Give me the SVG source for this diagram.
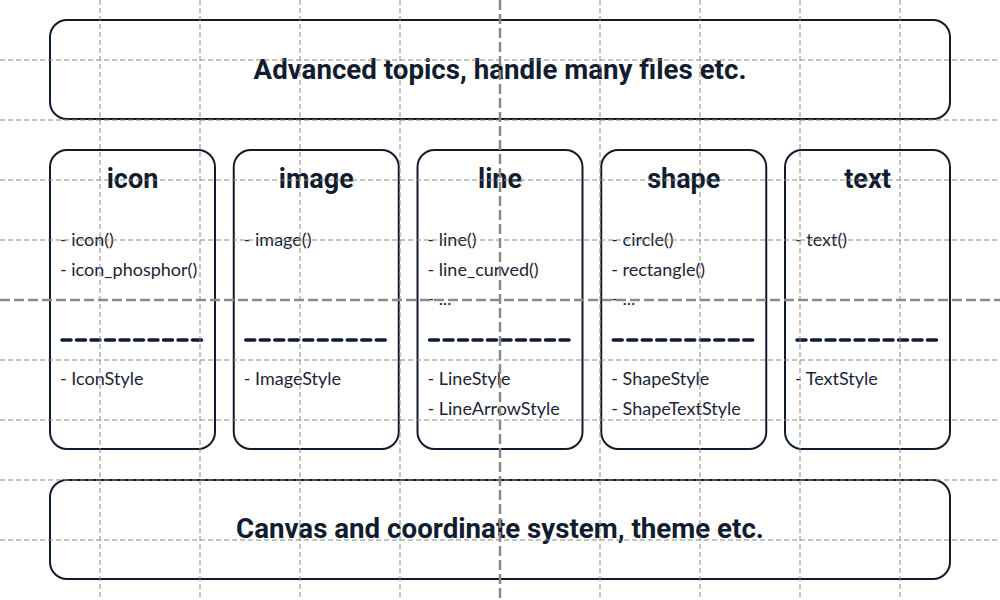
<svg xmlns="http://www.w3.org/2000/svg" width="1000" height="600" viewBox="0 0 1000 600">
<style>
.box{fill:#fff;stroke:#111c2e;stroke-width:2}
.big{font-family:Roboto,"Liberation Sans",sans-serif;font-weight:bold;font-size:27px;fill:#111c2e;text-anchor:middle}
.wide{font-size:27.7px}
.item{font-family:Lato,"Noto Sans",sans-serif;font-size:18px;fill:#1b2536}
.sep{stroke:#111c2e;stroke-width:3.5;stroke-linecap:round;stroke-dasharray:9 5.5;fill:none}
.g1{stroke:#8a8a8a;stroke-width:1;stroke-dasharray:5 3;fill:none}
.g2{stroke:#8a8a8a;stroke-width:2.5;stroke-dasharray:10 4;fill:none}
</style>
<rect width="1000" height="600" fill="#fff"/>
<g id="advanced">
<rect class="box" x="50" y="20" width="900" height="99" rx="17"/>
<text class="big wide" x="500" y="79">Advanced topics, handle many files etc.</text>
</g>
<g id="icon">
<rect class="box" x="50" y="150" width="165" height="299" rx="17"/>
<text class="big" x="132.5" y="188">icon</text>
<text class="item" x="60" y="246">- icon()</text>
<text class="item" x="60" y="276">- icon_phosphor()</text>
<line class="sep" x1="62" y1="340" x2="203" y2="340"/>
<text class="item" x="60" y="385">- IconStyle</text>
</g>
<g id="image">
<rect class="box" x="233.75" y="150" width="165" height="299" rx="17"/>
<text class="big" x="316.25" y="188">image</text>
<text class="item" x="243.75" y="246">- image()</text>
<line class="sep" x1="245.75" y1="340" x2="386.75" y2="340"/>
<text class="item" x="243.75" y="385">- ImageStyle</text>
</g>
<g id="line">
<rect class="box" x="417.5" y="150" width="165" height="299" rx="17"/>
<text class="big" x="500" y="188">line</text>
<text class="item" x="427.5" y="246">- line()</text>
<text class="item" x="427.5" y="276">- line_curved()</text>
<text class="item" x="427.5" y="305">- ...</text>
<line class="sep" x1="429.5" y1="340" x2="570.5" y2="340"/>
<text class="item" x="427.5" y="385">- LineStyle</text>
<text class="item" x="427.5" y="415">- LineArrowStyle</text>
</g>
<g id="shape">
<rect class="box" x="601.25" y="150" width="165" height="299" rx="17"/>
<text class="big" x="683.75" y="188">shape</text>
<text class="item" x="611.25" y="246">- circle()</text>
<text class="item" x="611.25" y="276">- rectangle()</text>
<text class="item" x="611.25" y="305">- ...</text>
<line class="sep" x1="613.25" y1="340" x2="754.25" y2="340"/>
<text class="item" x="611.25" y="385">- ShapeStyle</text>
<text class="item" x="611.25" y="415">- ShapeTextStyle</text>
</g>
<g id="text">
<rect class="box" x="785" y="150" width="165" height="299" rx="17"/>
<text class="big" x="867.5" y="188">text</text>
<text class="item" x="795" y="246">- text()</text>
<line class="sep" x1="797" y1="340" x2="938" y2="340"/>
<text class="item" x="795" y="385">- TextStyle</text>
</g>
<g id="canvas">
<rect class="box" x="50" y="480" width="900" height="99" rx="17"/>
<text class="big wide" x="500" y="538">Canvas and coordinate system, theme etc.</text>
</g>
<g id="grid">
<path class="g1" d="M100 0V600M200 0V600M300 0V600M400 0V600M600 0V600M700 0V600M800 0V600M900 0V600M0 60H1000M0 120H1000M0 180H1000M0 240H1000M0 360H1000M0 420H1000M0 480H1000M0 540H1000"/>
<path class="g2" d="M500 0V600M0 300H1000"/>
</g>
</svg>
